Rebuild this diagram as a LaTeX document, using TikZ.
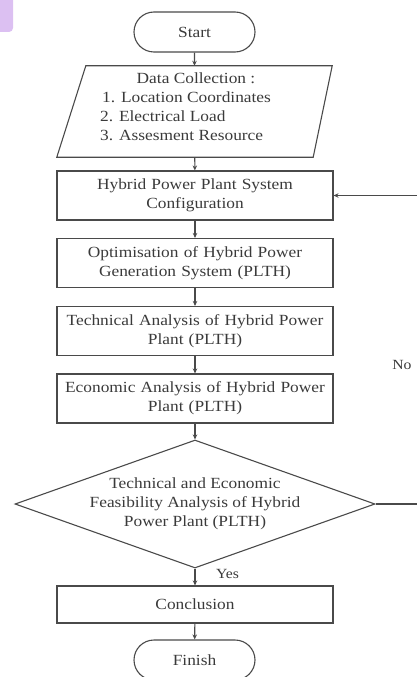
\documentclass[tikz,border=0pt]{standalone}
\usepackage{fontspec}
\setmainfont{Liberation Serif}[FakeStretch=1.12]
\usetikzlibrary{shapes.geometric,shapes.misc,arrows.meta}
\definecolor{ln}{HTML}{4A4A4A}
\definecolor{tx}{HTML}{3A3A3A}
\definecolor{badge}{HTML}{DCC0F2}
\begin{document}
\begin{tikzpicture}[x=1pt,y=-1pt,
  every node/.style={font=\fontsize{15.5}{19}\selectfont, text=tx},
  term/.style={draw=ln, line width=1.1pt, rounded rectangle, minimum width=121pt, minimum height=40pt, inner sep=0pt},
  procbox/.style={draw=ln, line width=1.1pt, rectangle, minimum width=276pt, minimum height=49pt, inner sep=0pt, align=center, text width=270pt},
  ioframe/.style={rectangle, minimum width=275pt, minimum height=91pt, inner sep=0pt},
  shapeline/.style={draw=ln, line width=1.1pt, line join=miter},
  decision/.style={draw=ln, line width=1.1pt, diamond, minimum width=360pt, minimum height=128pt, inner sep=0pt},
  flow/.style={draw=ln, line width=1.1pt, -{Stealth[length=5pt,width=4.5pt]}},
  lbl/.style={font=\fontsize{14}{17}\selectfont}
]
\useasboundingbox (0,0) rectangle (417,677);
\fill[badge, rounded corners=4pt] (-6,-6) rectangle (13,32);
\node[ioframe] (data) at (194.5,111.5) {};
\draw[shapeline] ([xshift=29pt]data.north west) -- (data.north east) -- ([xshift=-19pt]data.south east) -- (data.south west) -- cycle;
\node[align=center, anchor=north, inner sep=0pt] (datatitle) at (196,73) {Data Collection :};
\node[align=left, anchor=north west, inner sep=0pt] (datalist) at (100,92) {\hspace*{2pt}1. Location Coordinates\\2. Electrical Load\\3. Assesment Resource};
\node[term] (start) at (194.5,32) {Start};
\node[procbox] (conf) at (195,195.5) {Hybrid Power Plant System\\Configuration};
\node[procbox] (opt) at (195,263) {Optimisation of Hybrid Power\\Generation System (PLTH)};
\node[procbox] (tech) at (195,331) {Technical Analysis of Hybrid Power\\Plant (PLTH)};
\node[procbox] (econ) at (195,398.5) {Economic Analysis of Hybrid Power\\Plant (PLTH)};
\node[decision] (feas) at (195,504) {};
\node[align=center] (feastext) at (195,504) {Technical and Economic\\Feasibility Analysis of Hybrid\\Power Plant (PLTH)};
\node[procbox, minimum height=37pt] (concl) at (195,604.5) {Conclusion};
\node[term] (fin) at (194.5,660) {Finish};
\coordinate (loop) at (418,504);
\draw[flow] (start) -- (data);
\draw[flow] (data) -- (conf);
\draw[flow] (conf) -- (opt);
\draw[flow] (opt) -- (tech);
\draw[flow] (tech) -- (econ);
\draw[flow] (econ) -- (feas);
\draw[flow] (feas) -- (concl);
\node[lbl] (yes) at (227.5,574) {Yes};
\draw[flow] (concl) -- (fin);
\draw[flow] (feas.east) -- (loop) |- (conf.east);
\node[lbl] (no) at (402,365) {No};
\end{tikzpicture}
\end{document}
